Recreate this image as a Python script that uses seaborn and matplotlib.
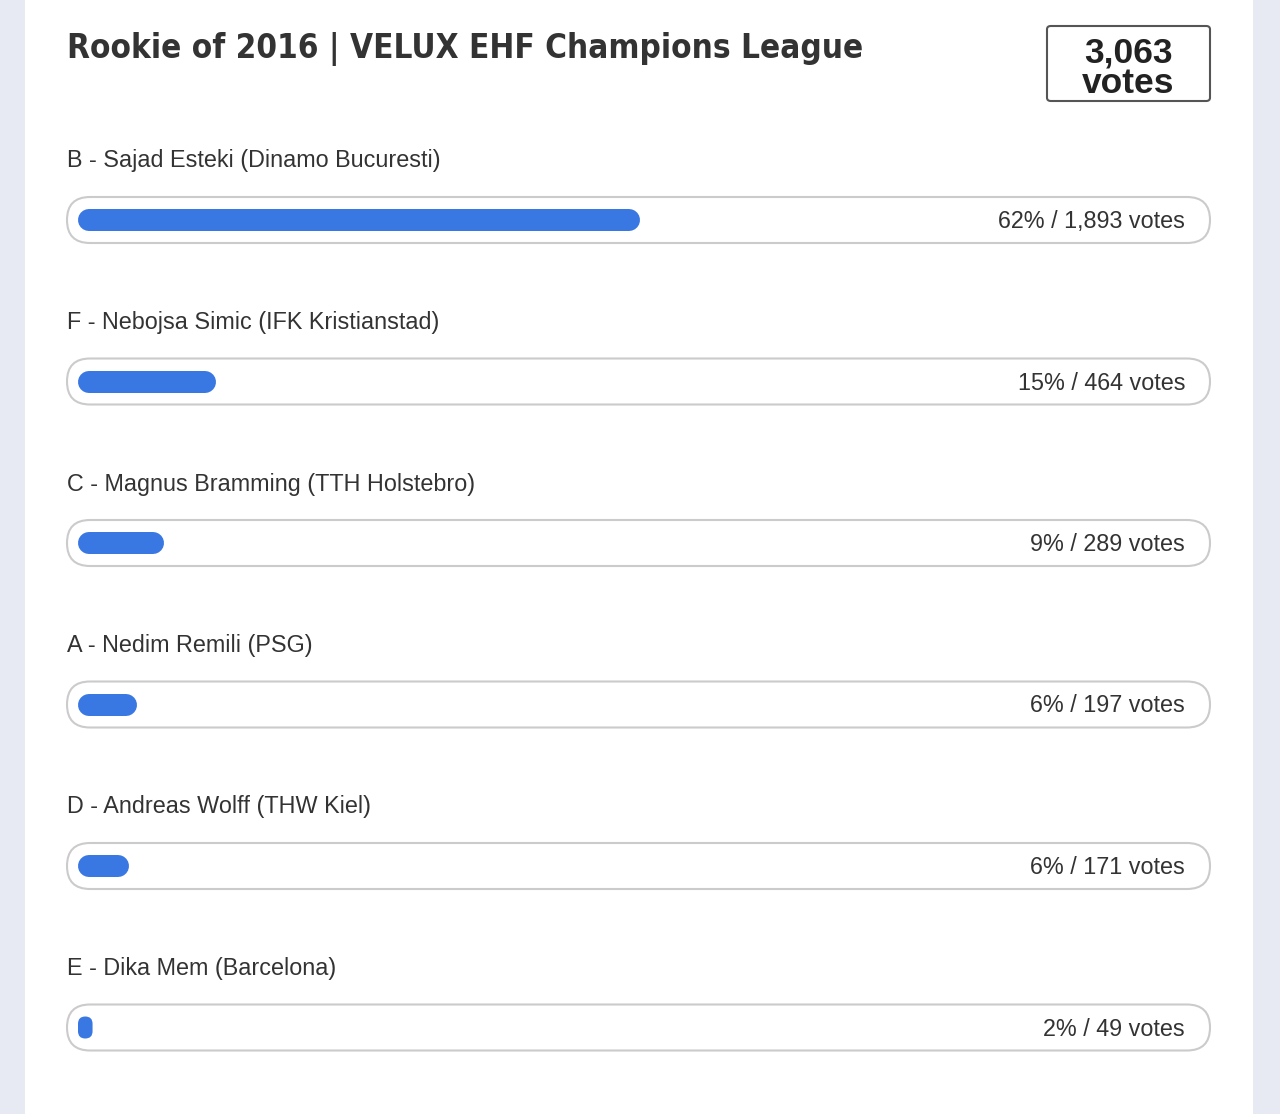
import matplotlib

matplotlib.use("Agg")
import matplotlib.pyplot as plt
from matplotlib.patches import FancyBboxPatch, Rectangle
import pandas as pd
import seaborn as sns

# poll results, in display order
candidates = [
    "B - Sajad Esteki (Dinamo Bucuresti)",
    "F - Nebojsa Simic (IFK Kristianstad)",
    "C - Magnus Bramming (TTH Holstebro)",
    "A - Nedim Remili (PSG)",
    "D - Andreas Wolff (THW Kiel)",
    "E - Dika Mem (Barcelona)",
]
votes = [1893, 464, 289, 197, 171, 49]
title = "Rookie of 2016 | VELUX EHF Champions League"

total = sum(votes)
df = pd.DataFrame({"candidate": candidates, "votes": votes})
df["pct"] = df["votes"] / total * 100

sns.set_theme(style="white")
plt.rcParams["font.family"] = ["Liberation Sans", "DejaVu Sans"]

W, H = 1280, 1114
BLUE = "#3977e3"
TXT = "#333333"


def fx(x):
    return x / W


def fy(y):
    return 1 - y / H


fig = plt.figure(figsize=(W / 100, H / 100), dpi=100)
fig.patch.set_facecolor("#e8eaf3")
fig.patches.append(Rectangle((fx(25), 0), fx(1253) - fx(25), 1,
                             transform=fig.transFigure, fc="white", ec="none",
                             zorder=-5))

# axes: x in percent, one row per 161.5 px
px_per_pct = 9.1
row_px = 161.5
bar_px = 22
x0_px, x1_px, zero_px = 67, 1210, 78
left_lim = (x0_px - zero_px) / px_per_pct
right_lim = (x1_px - zero_px) / px_per_pct
ax_top = 220 - row_px / 2
ax_h = row_px * len(candidates)
ax = fig.add_axes([fx(x0_px), fy(ax_top + ax_h), fx(x1_px) - fx(x0_px), ax_h / H])
ax.set_facecolor("none")
ax.set_zorder(2)

sns.barplot(data=df, x="pct", y="candidate", orient="h", color=BLUE,
            width=bar_px / row_px, ax=ax)
ax.set_xlim(left_lim, right_lim)
ax.set_ylim(len(candidates) - 0.5, -0.5)
ax.axis("off")

aspect = (1 / row_px) / (1 / px_per_pct)

# pill-shaped track behind each bar
track_h = 46 / row_px
for i in range(len(candidates)):
    ax.add_patch(FancyBboxPatch((left_lim, i - track_h / 2), right_lim - left_lim, track_h,
                                boxstyle=f"round,pad=0,rounding_size={23 / px_per_pct}",
                                mutation_aspect=aspect, fc="white", ec="#cbcbcb",
                                lw=1.5, clip_on=False, zorder=1))

# turn seaborn's rectangles into pills (round-capped strokes)
cap = (bar_px / 2) / px_per_pct
lw_pt = bar_px * 72 / 100
for p in list(ax.patches):
    if type(p) is not Rectangle:
        continue
    x, y, w, h = p.get_x(), p.get_y(), p.get_width(), p.get_height()
    yc = y + h / 2
    if w > 2 * cap:
        ax.plot([x + cap, x + w - cap], [yc, yc], color=BLUE, lw=lw_pt,
                solid_capstyle="round", zorder=3)
    else:
        ax.add_patch(FancyBboxPatch((x, y), w, h,
                                    boxstyle=f"round,pad=0,rounding_size={w / 2}",
                                    mutation_aspect=aspect, fc=BLUE, ec="none",
                                    clip_on=False, zorder=3))
    p.set_visible(False)

for i, row in df.iterrows():
    ax.text(left_lim, i - 59 / row_px, row["candidate"], ha="left", va="center",
            fontsize=16.8, color=TXT)
    ax.text((1185 - zero_px) / px_per_pct, i + 1.5 / row_px,
            f"{row['pct']:.0f}% / {row['votes']:,} votes",
            ha="right", va="center", fontsize=16.8, color=TXT, zorder=4)

# header
fig.text(fx(67), fy(58), title, ha="left", va="baseline", fontsize=23.9,
         fontweight="bold", color=TXT, family=["DejaVu Sans"],
         fontstretch="condensed")
fig.patches.append(FancyBboxPatch((fx(1047), fy(101)), fx(1210) - fx(1047), fy(26) - fy(101),
                                  boxstyle="round,pad=0,rounding_size=0.003",
                                  transform=fig.transFigure, fc="white", ec="#555555",
                                  lw=1.5, zorder=1))
fig.text(fx(1128), fy(63), f"{total:,}", ha="center", va="baseline", fontsize=25.5,
         fontweight="bold", color="#222222")
fig.text(fx(1128), fy(93), "votes", ha="center", va="baseline", fontsize=25.5,
         fontweight="bold", color="#222222")

fig.savefig("out.png", dpi=100, facecolor=fig.get_facecolor())
